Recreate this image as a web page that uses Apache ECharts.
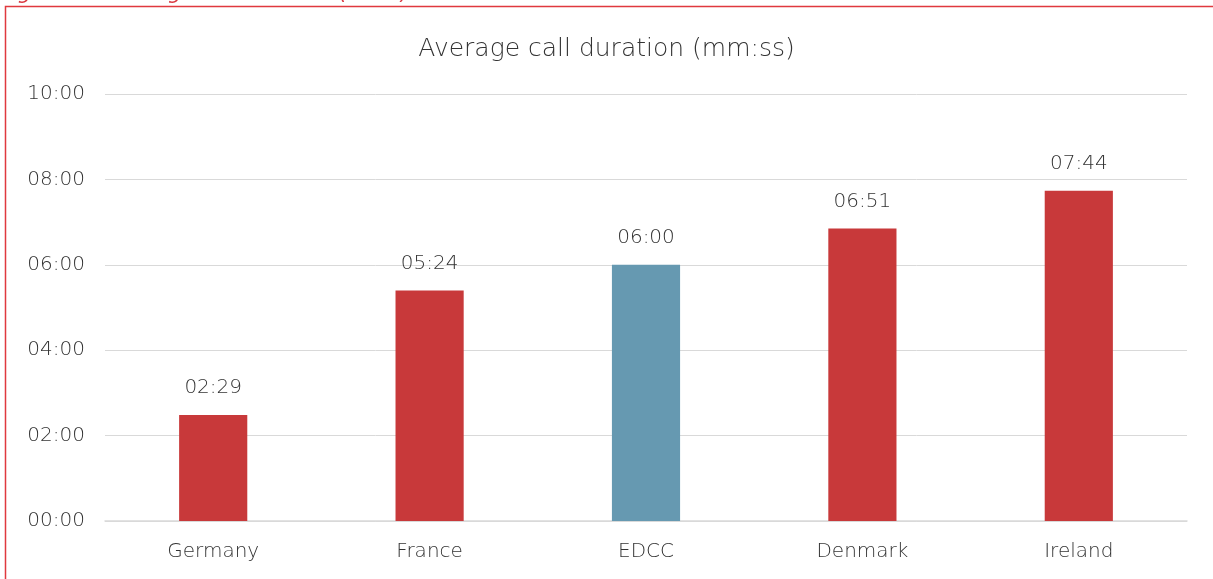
<!DOCTYPE html>
<html>
<head>
<meta charset="utf-8">
<style>
  html, body { margin: 0; padding: 0; background: #fff; }
  #chart { width: 1213px; height: 579px; }
</style>
<script src="https://cdn.jsdelivr.net/npm/echarts@6/dist/echarts.min.js"></script>
</head>
<body>
<div id="chart"></div>
<script>
// Average call duration per country, in seconds
const categories = ['Germany', 'France', 'EDCC', 'Denmark', 'Ireland'];
const durations = [149, 324, 360, 411, 464];
const highlighted = 'EDCC';
const tickStep = 120;
const axisMax = 600;

const red = '#C8393A';
const blue = '#6699B1';
const textColor = '#333333';
const fontFamily = '"DejaVu Sans", "Noto Sans", sans-serif';
const fontWeight = 200;

function mmss(sec) {
  const m = Math.floor(sec / 60);
  const s = Math.round(sec % 60);
  return String(m).padStart(2, '0') + ':' + String(s).padStart(2, '0');
}

const chart = echarts.init(document.getElementById('chart'));
chart.setOption({
  animation: false,
  backgroundColor: '#fff',
  textStyle: { fontFamily: fontFamily },
  title: {
    text: 'Average call duration (mm:ss)',
    left: 'center',
    top: 32,
    textStyle: { fontSize: 25, fontWeight: fontWeight, color: textColor, fontFamily: fontFamily }
  },
  graphic: [
    {
      type: 'text',
      left: 0,
      top: -17,
      style: {
        text: 'Figure 1 - Average call duration (2020) – Talk time',
        fontSize: 21,
        fontStyle: 'italic',
        fontWeight: fontWeight,
        fill: '#D9363E',
        fontFamily: fontFamily
      }
    },
    {
      type: 'rect',
      shape: { x: 5.5, y: 6.5, width: 1240, height: 620 },
      style: { fill: 'none', stroke: '#E0393E', lineWidth: 1.5 }
    }
  ],
  grid: { left: 105, right: 26, top: 94, bottom: 58, containLabel: false },
  xAxis: {
    type: 'category',
    data: categories,
    axisTick: { show: false },
    axisLine: { lineStyle: { color: '#D9D9D9', width: 1.5 } },
    axisLabel: { color: textColor, fontSize: 20, fontWeight: fontWeight, margin: 21, fontFamily: fontFamily }
  },
  yAxis: {
    type: 'value',
    min: 0,
    max: axisMax,
    interval: tickStep,
    axisLine: { show: false },
    axisTick: { show: false },
    splitLine: { lineStyle: { color: '#D9D9D9', width: 1 } },
    axisLabel: { color: textColor, fontSize: 20, fontWeight: fontWeight, margin: 20, fontFamily: fontFamily, formatter: mmss }
  },
  series: [{
    type: 'bar',
    barWidth: '31.5%',
    data: durations.map((v, i) => ({
      value: v,
      itemStyle: { color: categories[i] === highlighted ? blue : red }
    })),
    label: {
      show: true,
      position: 'top',
      distance: 17,
      color: textColor,
      fontSize: 20,
      fontWeight: fontWeight,
      fontFamily: fontFamily,
      formatter: p => mmss(p.value)
    }
  }]
});
</script>
</body>
</html>
